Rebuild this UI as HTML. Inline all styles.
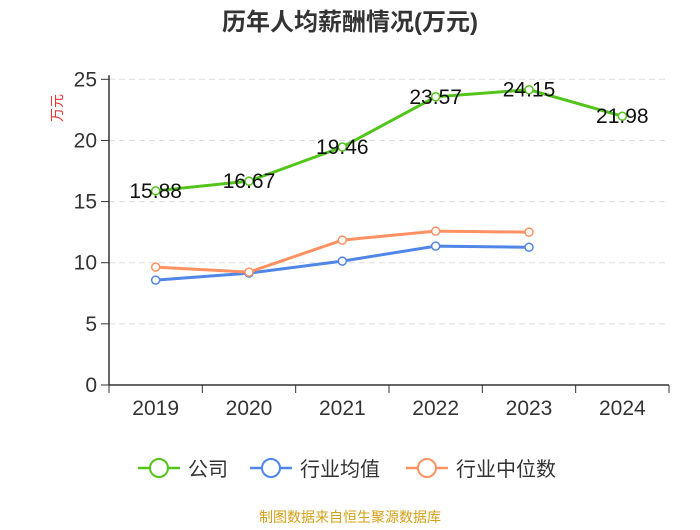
<!DOCTYPE html>
<html><head><meta charset="utf-8"><style>
body{margin:0;background:#fff;}
svg text{font-family:"Liberation Sans","Noto Sans CJK SC",sans-serif;}
</style></head><body>
<svg width="700" height="525">
<text x="350" y="30" text-anchor="middle" font-size="24" font-weight="bold" fill="#333">历年人均薪酬情况(万元)</text>
<text x="62" y="108" font-size="14" fill="#e33" transform="rotate(-90 62 108)" text-anchor="middle">万元</text>
<g id="grid"></g><g id="axes"></g><g id="series"></g>
<g>
<g><line x1="138" y1="468" x2="180" y2="468" stroke="#52c41a" stroke-width="2.5"/><circle cx="159" cy="468" r="9" fill="#fff" stroke="#52c41a" stroke-width="2"/><text x="188" y="476" font-size="20" fill="#333">公司</text></g>
<g><line x1="250" y1="468" x2="292" y2="468" stroke="#4f86e8" stroke-width="2.5"/><circle cx="271" cy="468" r="9" fill="#fff" stroke="#4f86e8" stroke-width="2"/><text x="300" y="476" font-size="20" fill="#333">行业均值</text></g>
<g><line x1="406" y1="468" x2="448" y2="468" stroke="#ff9163" stroke-width="2.5"/><circle cx="427" cy="468" r="9" fill="#fff" stroke="#ff9163" stroke-width="2"/><text x="456" y="476" font-size="20" fill="#333">行业中位数</text></g>
</g>
<text x="350" y="522" text-anchor="middle" font-size="14" fill="#d4a017">制图数据来自恒生聚源数据库</text>
</svg>
<script>
const categories=['2019','2020','2021','2022','2023','2024'];
const company=[15.88,16.67,19.46,23.57,24.15,21.98];
const industryAvg=[8.58,9.15,10.13,11.36,11.27,null];
const industryMedian=[9.64,9.23,11.85,12.58,12.5,null];
const yTicks=[0,5,10,15,20,25];
const NS='http://www.w3.org/2000/svg';
const L=109,R=669,T=79.3,B=385,yMax=25;
const bw=(R-L)/categories.length;
const xs=i=>L+bw*(i+0.5);
const ys=v=>B-(v/yMax)*(B-T);
function mk(tag,attrs,parent,txt){const e=document.createElementNS(NS,tag);for(const k in attrs)e.setAttribute(k,attrs[k]);if(txt!==undefined)e.textContent=txt;document.getElementById(parent).appendChild(e);return e;}
yTicks.forEach(t=>{
 if(t>0){const g=mk('line',{x1:L,x2:R,y1:ys(t),y2:ys(t),stroke:'#ddd','stroke-dasharray':'6,4'},'grid');
 
 }
 const tk=mk('line',{x1:L-8,x2:L,y1:ys(t),y2:ys(t),stroke:'#333'},'axes');
 
 
 const lb=mk('text',{x:L-12,y:ys(t)+7,'text-anchor':'end','font-size':21,fill:'#333'},'axes',t);
 
 
});
const ya=mk('line',{x1:L,x2:L,y1:T-4,y2:B,stroke:'#333','stroke-width':1.5},'axes');


const xa=mk('line',{x1:L,x2:R,y1:B,y2:B,stroke:'#333','stroke-width':1.5},'axes');


for(let i=0;i<=categories.length;i++){const tk=mk('line',{x1:L+bw*i,x2:L+bw*i,y1:B,y2:B+8,stroke:'#333'},'axes');
 
 }
categories.forEach((c,i)=>{const t=mk('text',{x:xs(i),y:B+30,'text-anchor':'middle','font-size':21,fill:'#333'},'axes',c);
 
 });
function series(vals,color,name,labels){
 const pts=vals.map((v,i)=>v==null?null:[xs(i),ys(v)]).filter(p=>p);
 const pl=mk('polyline',{points:pts.map(p=>p.join(',')).join(' '),fill:'none',stroke:color,'stroke-width':3},'series');
 
 
 vals.forEach((v,i)=>{if(v==null)return;
  const c=mk('circle',{cx:xs(i),cy:ys(v),r:4,fill:'#fff',stroke:color,'stroke-width':1.5},'series');
  
  
  if(labels){const t=mk('text',{x:xs(i),y:ys(v)+7,'text-anchor':'middle','font-size':21,fill:'#111'},'series',v.toFixed(2));
   
   }
 });
}
series(industryAvg,'#4f86e8','industry-avg',false);
series(industryMedian,'#ff9163','industry-median',false);
series(company,'#52c41a','company',true);
</script>
</body></html>
